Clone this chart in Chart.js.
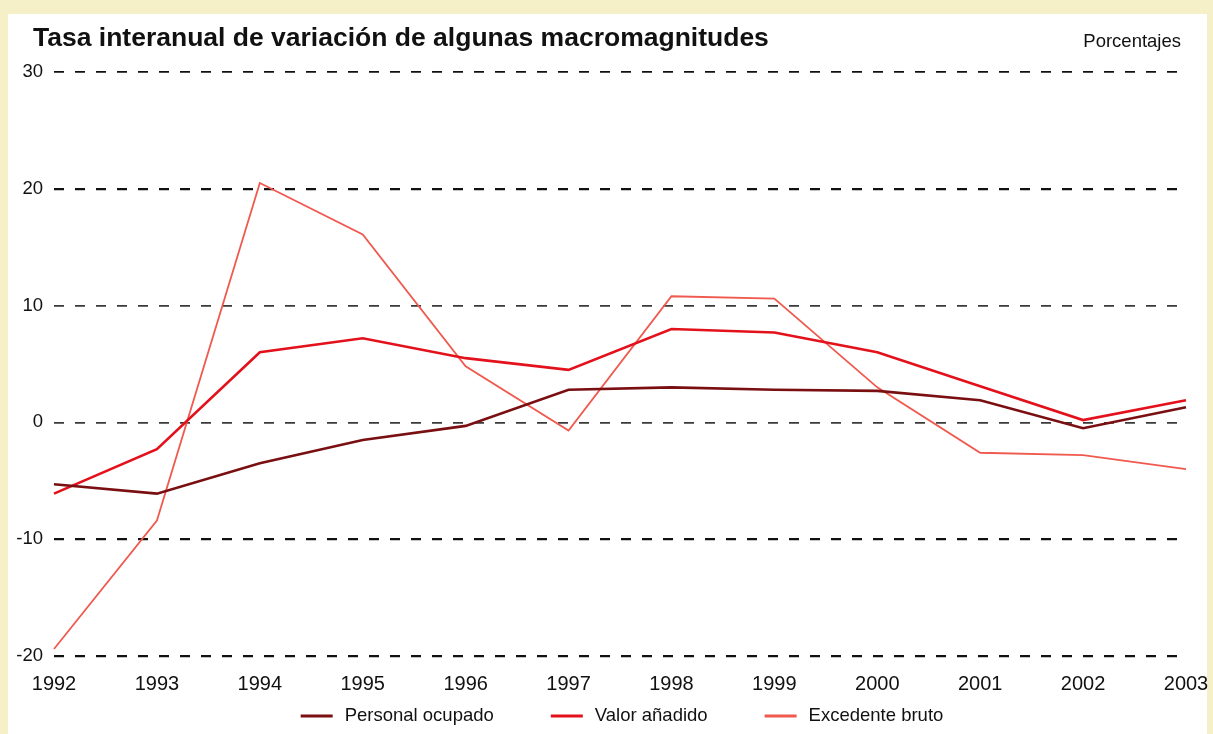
<!DOCTYPE html>
<html>
<head>
<meta charset="utf-8">
<script src="https://cdn.jsdelivr.net/npm/chart.js@4.4.1/dist/chart.umd.min.js"></script>
<style>
  html, body { margin: 0; padding: 0; background: #f6f0c8; }
  #wrap { position: absolute; left: 0; top: 0; width: 1213px; height: 734px; }
  canvas { display: block; }
</style>
</head>
<body>
<div id="wrap"><canvas id="c" width="1213" height="734"></canvas></div>
<script>
const years = ['1992','1993','1994','1995','1996','1997','1998','1999','2000','2001','2002','2003'];
const personalOcupado = [-5.3, -6.1, -3.5, -1.5, -0.3, 2.8, 3.0, 2.8, 2.7, 1.9, -0.5, 1.3];
const valorAnadido    = [-6.1, -2.3, 6.0, 7.2, 5.5, 4.5, 8.0, 7.7, 6.0, 3.1, 0.2, 1.9];
const excedenteBruto  = [-19.4, -8.4, 20.5, 16.1, 4.8, -0.7, 10.8, 10.6, 3.0, -2.6, -2.8, -4.0];
const yTicks = [-20, -10, 0, 10, 20, 30];
const titleText = 'Tasa interanual de variación de algunas macromagnitudes';
const unitText = 'Porcentajes';

const FONT = "'Liberation Sans', Arial, Helvetica, sans-serif";
const LEG_FONT = 18.5;

const framePlugin = {
  id: 'frame',
  beforeDraw(chart) {
    const ctx = chart.ctx;
    ctx.save();
    ctx.fillStyle = '#f6f0c8';
    ctx.fillRect(0, 0, chart.width, chart.height);
    ctx.fillStyle = '#ffffff';
    ctx.fillRect(8, 14, 1199, 720);
    ctx.restore();
  },
  afterDraw(chart) {
    const ctx = chart.ctx;
    ctx.save();
    ctx.fillStyle = '#111111';
    ctx.textBaseline = 'middle';
    ctx.textAlign = 'left';
    ctx.font = 'bold 26.5px ' + FONT;
    ctx.fillText(titleText, 33, 39);
    ctx.font = '18.5px ' + FONT;
    ctx.textAlign = 'right';
    ctx.fillText(unitText, 1181, 42);

    // legend (line marker + label for each dataset)
    ctx.font = LEG_FONT + 'px ' + FONT;
    ctx.textAlign = 'left';
    const markerW = 32, gapText = 12, gapItem = 57;
    const items = chart.data.datasets.map(ds => ({
      text: ds.label, color: ds.borderColor,
      w: markerW + gapText + ctx.measureText(ds.label).width
    }));
    const total = items.reduce((s, it) => s + it.w, 0) + gapItem * (items.length - 1);
    let x = 622 - total / 2;
    const y = 716;
    items.forEach(it => {
      ctx.fillStyle = it.color;
      ctx.fillRect(x, y - 1.5, markerW, 3);
      ctx.fillStyle = '#111111';
      ctx.fillText(it.text, x + markerW + gapText, y);
      x += it.w + gapItem;
    });
    ctx.restore();
  }
};

new Chart(document.getElementById('c'), {
  type: 'line',
  data: {
    labels: years,
    datasets: [
      { label: 'Personal ocupado', data: personalOcupado, borderColor: '#7a0f12', backgroundColor: '#7a0f12', borderWidth: 2.6, pointRadius: 0, tension: 0 },
      { label: 'Valor añadido', data: valorAnadido, borderColor: '#e3111b', backgroundColor: '#e3111b', borderWidth: 2.6, pointRadius: 0, tension: 0 },
      { label: 'Excedente bruto', data: excedenteBruto, borderColor: '#f05a4e', backgroundColor: '#f05a4e', borderWidth: 1.8, pointRadius: 0, tension: 0 }
    ]
  },
  options: {
    responsive: false,
    animation: false,
    devicePixelRatio: 1,
    layout: { padding: { left: 10, right: 27, top: 72, bottom: 30 } },
    plugins: {
      legend: { display: false },
      tooltip: { enabled: false },
      title: { display: false }
    },
    scales: {
      x: {
        type: 'category',
        offset: false,
        grid: { display: false },
        border: { display: false },
        afterFit(scale) { scale.paddingRight = 0; scale.paddingLeft = 0; },
        ticks: { color: '#111', font: { family: FONT, size: 20 }, padding: 8, maxRotation: 0, autoSkip: false }
      },
      y: {
        min: -20, max: 30,
        afterBuildTicks(scale) { scale.ticks = yTicks.map(v => ({ value: v })); },
        afterFit(scale) { scale.width = 44; },
        border: { display: false, dash: [10, 11] },
        grid: {
          drawTicks: false,
          color: (c) => ([20, -10, -20, 30].includes(c.tick && c.tick.value) ? '#111' : '#3a3a3a'),
          lineWidth: (c) => ([20, -10, -20].includes(c.tick && c.tick.value) ? 2.2 : 1.7)
        },
        ticks: { color: '#111', font: { family: FONT, size: 18.5 }, padding: 11 }
      }
    }
  },
  plugins: [framePlugin]
});
</script>
</body>
</html>
